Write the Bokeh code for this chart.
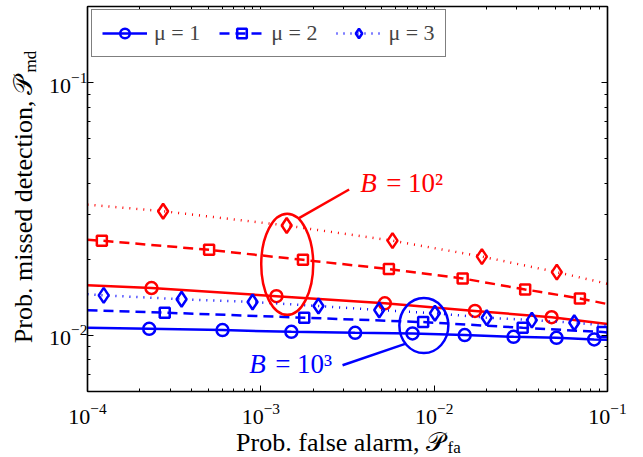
import math
from bokeh.plotting import figure
from bokeh.layouts import column, row
from bokeh.models import (LogAxis, FixedTicker, LogTickFormatter, Legend, LegendItem, Range1d)
from bokeh.core.properties import value
from bokeh.embed import file_html
from bokeh.resources import INLINE

# ---------------- data ----------------
# B = 10^2 (red)
b2_mu1_pfa = [1e-4, 2.34e-4, 1.23e-3, 5.19e-3, 1.72e-2, 4.76e-2, 1e-1]
b2_mu1_pmd = [0.0158, 0.0154, 0.0143, 0.0134, 0.0125, 0.0118, 0.0111]
b2_mu2_pfa = [1e-4, 1.21e-4, 5.03e-4, 1.75e-3, 5.48e-3, 1.46e-2, 3.35e-2, 6.93e-2, 1e-1]
b2_mu2_pmd = [0.0239, 0.0237, 0.0218, 0.0199, 0.0183, 0.0168, 0.0152, 0.0140, 0.0133]
b2_mu3_pfa = [1e-4, 2.73e-4, 1.41e-3, 5.75e-3, 1.885e-2, 5.10e-2, 1e-1]
b2_mu3_pmd = [0.0329, 0.0310, 0.0272, 0.0237, 0.0205, 0.0178, 0.0160]
# B = 10^3 (blue)
b3_mu1_pfa = [1e-4, 2.27e-4, 6.01e-4, 1.50e-3, 3.50e-3, 7.50e-3, 1.50e-2, 2.87e-2, 5.08e-2, 8.38e-2, 1e-1]
b3_mu1_pmd = [0.01072, 0.01062, 0.0105, 0.01033, 0.01024, 0.01018, 0.01003, 0.00987, 0.00978, 0.00964, 0.00962]
b3_mu2_pfa = [1e-4, 2.79e-4, 1.78e-3, 8.64e-3, 3.24e-2, 9.37e-2, 1e-1]
b3_mu2_pmd = [0.01257, 0.0123, 0.01175, 0.01129, 0.01072, 0.01031, 0.01028]
b3_mu3_pfa = [1e-4, 1.24e-4, 3.49e-4, 8.96e-4, 2.15e-3, 4.82e-3, 1.01e-2, 2.01e-2, 3.66e-2, 6.43e-2, 1e-1]
b3_mu3_pmd = [0.01455, 0.0144, 0.0139, 0.01356, 0.01307, 0.0126, 0.01223, 0.01175, 0.0115, 0.01122, 0.01094]

legend_labels = ["μ = 1", "μ = 2", "μ = 3"]
x_major_ticks = [1e-4, 1e-3, 1e-2, 1e-1]
y_major_ticks = [1e-2, 1e-1]
x_title = ("Prob. false alarm,", "𝒫", "fa")
y_title = ("Prob. missed detection,", "𝒫", "md")

# annotations
ann_b2_text = ("B", "= 10²")
ann_b3_text = ("B", "= 10³")
ann_b2_ellipse = (1.42e-3, 0.0191)
ann_b3_ellipse = (8.72e-3, 0.01094)
ann_b2_line = (1.65e-3, 0.02904, 3.232e-3, 0.03776)
ann_b3_line = (6.80e-3, 0.009261, 2.961e-3, 0.00762)
ann_b2_text_pos = (3.74e-3, 0.03995)
ann_b3_text_pos = (8.56e-4, 0.00768)

SERIF = "Liberation Serif"
RED = "#ff0000"
BLUE = "#0000ff"

W_LEFT = 42
H_TOP = 427
W_TOTAL = 643
H_TOTAL = 457

p = figure(width=W_TOTAL - W_LEFT, height=H_TOP, x_axis_type="log", y_axis_type="log",
           x_range=(1e-4, 1e-1), y_range=(0.006, 0.2),
           output_backend="svg", toolbar_location=None,
           min_border_left=45, min_border_right=36, min_border_top=6, min_border_bottom=36)
p.frame_align = False
p.xgrid.visible = False
p.ygrid.visible = False
p.background_fill_color = "white"
p.border_fill_color = "white"
p.outline_line_color = "black"
p.outline_line_width = 1.2


def minor(lo, hi):
    return [m * 10.0 ** e for e in range(lo, hi) for m in range(2, 10)]


xticker = FixedTicker(ticks=x_major_ticks, minor_ticks=minor(-4, -1))
yticker = FixedTicker(ticks=y_major_ticks, minor_ticks=[6e-3, 7e-3, 8e-3, 9e-3] + minor(-2, -1) + [0.2])


def style_axis(ax, labels=True):
    ax.axis_line_color = "black"
    ax.axis_line_width = 1.5
    ax.major_tick_in = 6
    ax.major_tick_out = 0
    ax.minor_tick_in = 3
    ax.minor_tick_out = 0
    ax.major_tick_line_color = "black"
    ax.minor_tick_line_color = "black"
    if labels:
        ax.major_label_text_font = SERIF
        ax.major_label_text_font_size = "22px"
        ax.major_label_text_color = "black"
    else:
        ax.major_label_text_font_size = "1px"
        ax.major_label_text_color = None
        ax.major_label_standoff = 0


p.xaxis.ticker = xticker
p.yaxis.ticker = yticker
p.xaxis.formatter = LogTickFormatter()
p.yaxis.formatter = LogTickFormatter()
style_axis(p.xaxis[0])
style_axis(p.yaxis[0])
p.xaxis.major_label_standoff = 12
p.yaxis.major_label_standoff = 0

top_ax = LogAxis(ticker=xticker, formatter=LogTickFormatter())
right_ax = LogAxis(ticker=yticker, formatter=LogTickFormatter())
style_axis(top_ax, labels=False)
style_axis(right_ax, labels=False)
p.add_layout(top_ax, "above")
p.add_layout(right_ax, "right")


# ---------------- series ----------------
def series(xs, ys, color, dash, marker, msize):
    lr = p.line(xs, ys, line_color=color, line_width=2.5, line_dash=dash)
    sr = p.scatter(xs[1:-1], ys[1:-1], marker=marker, size=msize, fill_color=None,
                   line_color=color, line_width=2.5)
    return lr, sr


series(b2_mu3_pfa, b2_mu3_pmd, RED, "1 6", "diamond", 15)
series(b2_mu2_pfa, b2_mu2_pmd, RED, "10 6", "square", 10)
series(b2_mu1_pfa, b2_mu1_pmd, RED, "solid", "circle", 12)
l3, s3 = series(b3_mu3_pfa, b3_mu3_pmd, BLUE, "1 6", "diamond", 15)
l2, s2 = series(b3_mu2_pfa, b3_mu2_pmd, BLUE, "10 6", "square", 10)
l1, s1 = series(b3_mu1_pfa, b3_mu1_pmd, BLUE, "solid", "circle", 12)

# ---------------- annotations ----------------
p.ellipse(x=[ann_b2_ellipse[0]], y=[ann_b2_ellipse[1]], width=52, height=101,
          width_units="screen", height_units="screen", fill_color=None, line_color=RED, line_width=2.5)
p.ellipse(x=[ann_b3_ellipse[0]], y=[ann_b3_ellipse[1]], width=49, height=55,
          width_units="screen", height_units="screen", fill_color=None, line_color=BLUE, line_width=2.5)
p.segment(x0=[ann_b2_line[0]], y0=[ann_b2_line[1]], x1=[ann_b2_line[2]], y1=[ann_b2_line[3]],
          line_color=RED, line_width=2.5)
p.segment(x0=[ann_b3_line[0]], y0=[ann_b3_line[1]], x1=[ann_b3_line[2]], y1=[ann_b3_line[3]],
          line_color=BLUE, line_width=2.5)


def math_label(pos, parts, color):
    p.text(x=[pos[0]], y=[pos[1]], text=[parts[0]], text_font=value(SERIF),
           text_font_size=value("27px"), text_font_style="italic", text_color=color,
           text_align="left", text_baseline="alphabetic")
    p.text(x=[pos[0]], y=[pos[1]], text=[parts[1]], x_offset=26, text_font=value(SERIF),
           text_font_size=value("27px"), text_color=color,
           text_align="left", text_baseline="alphabetic")


math_label(ann_b2_text_pos, ann_b2_text, RED)
math_label(ann_b3_text_pos, ann_b3_text, BLUE)

# ---------------- legend ----------------
legend = Legend(items=[LegendItem(label=legend_labels[0], renderers=[l1, s1]),
                       LegendItem(label=legend_labels[1], renderers=[l2, s2]),
                       LegendItem(label=legend_labels[2], renderers=[l3, s3])],
                orientation="horizontal", location=(4, 334), margin=0, padding=10,
                spacing=19, label_standoff=7, glyph_width=45, glyph_height=24,
                label_text_font=SERIF, label_text_font_size="22px",
                border_line_color="black", border_line_width=1.5,
                background_fill_color="white", background_fill_alpha=1.0)
p.add_layout(legend)


# ---------------- axis titles (separate text panels) ----------------
def text_panel(w, h):
    f = figure(width=w, height=h, x_range=Range1d(0, w), y_range=Range1d(0, h),
               x_axis_type=None, y_axis_type=None, output_backend="svg", toolbar_location=None,
               min_border=0)
    f.frame_align = False
    f.outline_line_color = None
    f.xgrid.visible = False
    f.ygrid.visible = False
    f.background_fill_color = "white"
    f.border_fill_color = "white"
    return f


TITLE_PX = 26
SUB_PX = 17
SHIFT = 0.3375  # baseline compensation (em)

# y title: reads bottom -> top
left_fig = text_panel(W_LEFT, H_TOP)
left_fig.text(x=[32 - SHIFT * TITLE_PX], y=[H_TOP - 100], text=[y_title[0]], angle=math.pi / 2,
              text_font=value(SERIF), text_font_size=value(f"{TITLE_PX}px"), text_color="black",
              text_align="right", text_baseline="alphabetic")
left_fig.text(x=[32 - SHIFT * TITLE_PX], y=[H_TOP - 94], text=[y_title[1]], angle=math.pi / 2,
              text_font=value(SERIF), text_font_size=value(f"{TITLE_PX}px"), text_color="black",
              text_align="left", text_baseline="alphabetic")
left_fig.text(x=[36 - SHIFT * SUB_PX], y=[H_TOP - 72], text=[y_title[2]], angle=math.pi / 2,
              text_font=value(SERIF), text_font_size=value(f"{SUB_PX}px"), text_color="black",
              text_align="left", text_baseline="alphabetic")

# x title
H_BOT = H_TOTAL - H_TOP
bottom_fig = text_panel(W_TOTAL, H_BOT)
bottom_fig.text(x=[419], y=[H_TOTAL - 450.5 + SHIFT * TITLE_PX], text=[x_title[0]],
                text_font=value(SERIF), text_font_size=value(f"{TITLE_PX}px"), text_color="black",
                text_align="right", text_baseline="alphabetic")
bottom_fig.text(x=[425], y=[H_TOTAL - 450.5 + SHIFT * TITLE_PX], text=[x_title[1]],
                text_font=value(SERIF), text_font_size=value(f"{TITLE_PX}px"), text_color="black",
                text_align="left", text_baseline="alphabetic")
bottom_fig.text(x=[447], y=[H_TOTAL - 453 + SHIFT * SUB_PX], text=[x_title[2]],
                text_font=value(SERIF), text_font_size=value(f"{SUB_PX}px"), text_color="black",
                text_align="left", text_baseline="alphabetic")

layout = column(row(left_fig, p), bottom_fig)
open("out.html", "w").write(file_html(layout, INLINE))
